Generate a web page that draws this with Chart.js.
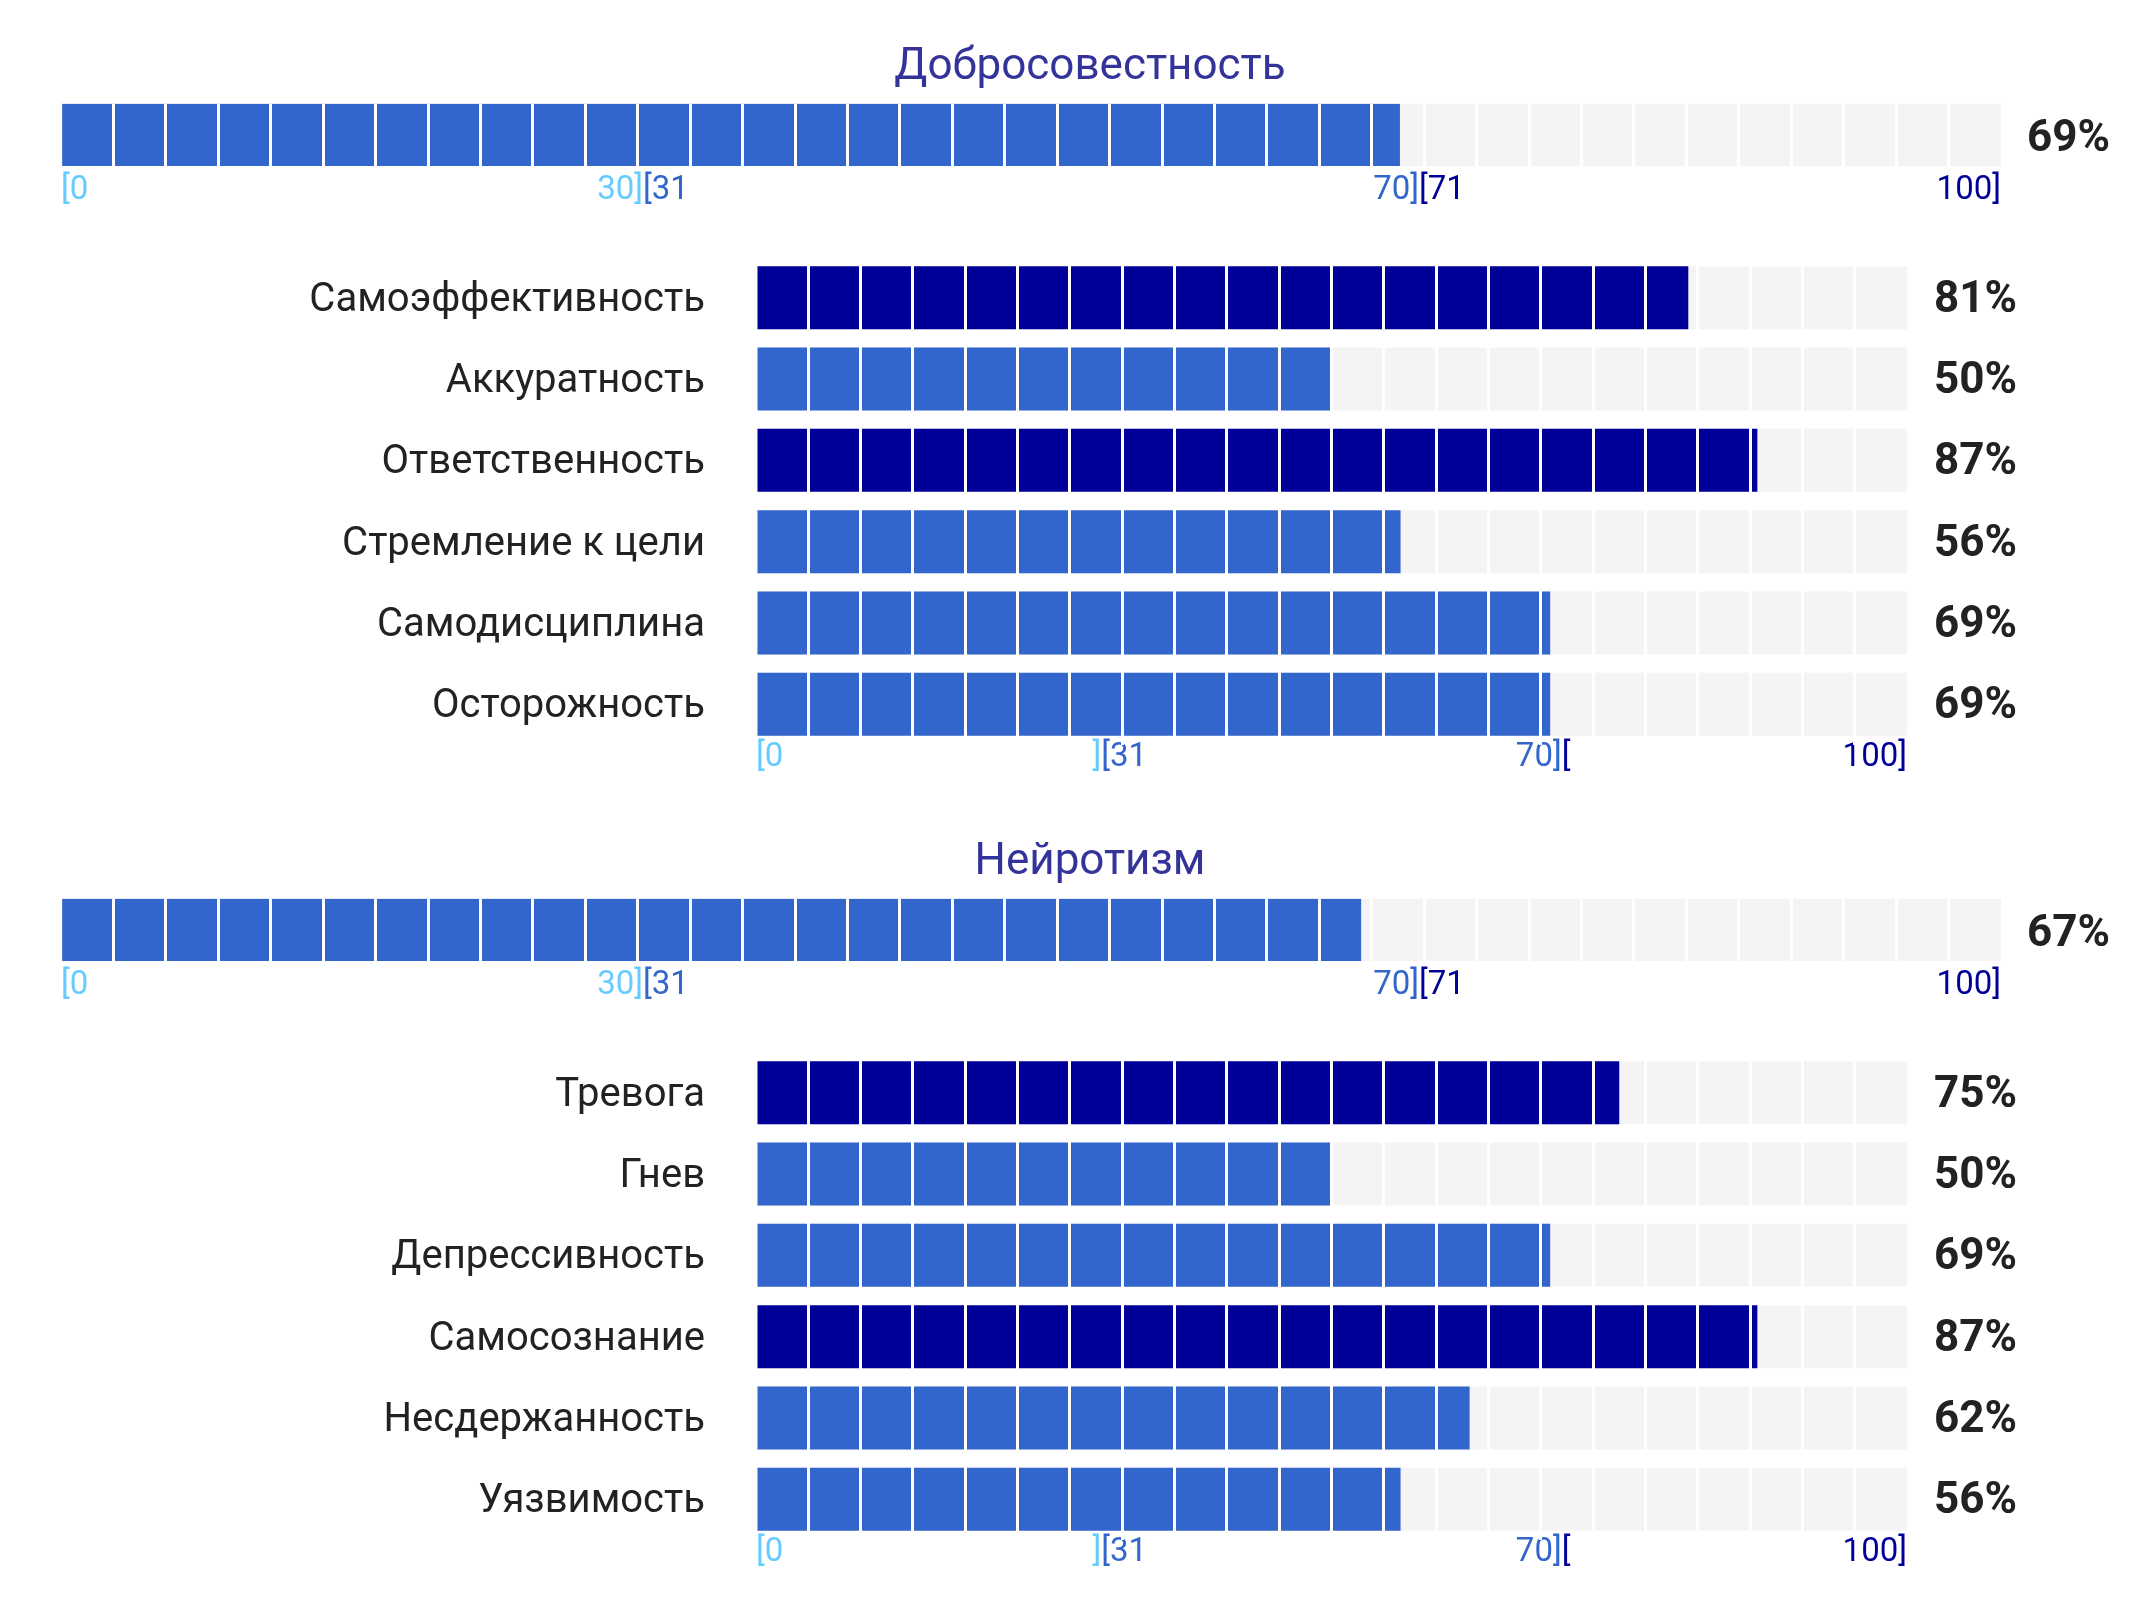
<!DOCTYPE html>
<html>
<head>
<meta charset="utf-8">
<script src="https://cdn.jsdelivr.net/npm/chart.js@4.4.1/dist/chart.umd.min.js"></script>
<style>
  html, body { margin: 0; padding: 0; background: #ffffff; }
  #wrap { position: relative; width: 2137px; height: 1610px; background: #ffffff; }
  canvas { position: absolute; left: 0; }
</style>
</head>
<body>
<div id="wrap">
  <canvas id="c1" width="2137" height="215" style="top:0px"></canvas>
  <canvas id="c2" width="2137" height="535" style="top:250px"></canvas>
  <canvas id="c3" width="2137" height="215" style="top:795px"></canvas>
  <canvas id="c4" width="2137" height="535" style="top:1045px"></canvas>
</div>
<script>
// ---------- data ----------
const traitNames = ['Добросовестность', 'Нейротизм'];
const traitScores = [69, 67];

const consFacets = ['Самоэффективность', 'Аккуратность', 'Ответственность', 'Стремление к цели', 'Самодисциплина', 'Осторожность'];
const consScores = [81, 50, 87, 56, 69, 69];

const neuroFacets = ['Тревога', 'Гнев', 'Депрессивность', 'Самосознание', 'Несдержанность', 'Уязвимость'];
const neuroScores = [75, 50, 69, 87, 62, 56];

const bandStarts = [0, 30, 70];
const bandEnds = [30, 70, 100];
const traitStartLabels = ['[0', '[31', '[71'];
const traitEndLabels = ['30]', '70]', '100]'];
const facetStartLabels = ['[0', '[31', '['];
const facetEndLabels = [']', '70]', '100]'];

const traitSegments = 37;
const facetSegments = 22;

// ---------- styles ----------
const LIGHT = '#66ccff';
const MEDIUM = '#3366cc';
const DARK = '#000099';
const TRACK = '#f4f4f4';
const bandColors = [LIGHT, MEDIUM, DARK];
const colorFor = v => v > 70 ? DARK : (v > 30 ? MEDIUM : LIGHT);
const FONT = 'Roboto';

function zeroPad(s) { s.paddingTop = 0; s.paddingBottom = 0; s.paddingLeft = 0; s.paddingRight = 0; }

function segmentAxis(n) {
  return {
    type: 'linear', min: 0, max: 100, position: 'bottom',
    afterBuildTicks: s => { s.ticks = Array.from({length: n + 1}, (_, i) => ({value: i * 100 / n})); },
    grid: {
      z: 1,
      color: ctx => (ctx.index === 0 || ctx.index === n) ? 'rgba(0,0,0,0)' : '#ffffff',
      lineWidth: 3, drawTicks: false, drawOnChartArea: true
    },
    border: {display: false},
    ticks: {display: false},
    afterFit: s => { s.height = 0; zeroPad(s); }
  };
}

function labelAxis(values, labels, align, pad) {
  return {
    type: 'linear', min: 0, max: 100, position: 'bottom',
    afterBuildTicks: s => { s.ticks = values.map(v => ({value: v})); },
    grid: {display: false, drawTicks: false},
    border: {display: false},
    ticks: {
      autoSkip: false, maxRotation: 0, minRotation: 0, align: align, padding: pad, mirror: true,
      color: ctx => bandColors[ctx.index],
      font: {family: FONT, size: 33},
      callback: (v, i) => labels[i]
    },
    afterFit: s => { s.height = 0; zeroPad(s); }
  };
}

function baseDatasets(values, thickness) {
  return [
    {data: values, backgroundColor: values.map(colorFor), order: 1, grouped: false,
     barPercentage: thickness, categoryPercentage: 1, yAxisID: 'y', xAxisID: 'x'},
    {data: values.map(() => 100), backgroundColor: TRACK, order: 2, grouped: false,
     barPercentage: thickness, categoryPercentage: 1, yAxisID: 'y', xAxisID: 'x'}
  ];
}

function valueAxis(labels, pad, width, shift) {
  return {
    type: 'category', position: 'right', labels: labels,
    grid: {display: false, drawTicks: false}, border: {display: false},
    ticks: {color: '#222222', padding: pad, labelOffset: shift,
            font: {family: FONT, size: 44, weight: 'bold'}},
    afterFit: s => { s.width = width; zeroPad(s); }
  };
}

function traitChart(id, name, score) {
  new Chart(document.getElementById(id), {
    type: 'bar',
    data: {labels: [name], datasets: baseDatasets([score], 1)},
    options: {
      indexAxis: 'y', responsive: false, animation: false, devicePixelRatio: 1,
      layout: {padding: {left: 43, top: 0, right: 0, bottom: 49}},
      plugins: {
        legend: {display: false}, tooltip: {enabled: false},
        title: {display: true, text: name, color: '#333399',
                font: {family: FONT, size: 44, weight: 'normal'}, padding: {top: 42, bottom: 9}}
      },
      scales: {
        x: segmentAxis(traitSegments),
        xs: labelAxis(bandStarts, traitStartLabels, 'start', -45),
        xe: labelAxis(bandEnds, traitEndLabels, 'end', -45),
        y: {type: 'category', grid: {display: false, drawTicks: false}, border: {display: false},
            ticks: {display: false}, afterFit: s => { s.width = 18; zeroPad(s); }},
        y2: valueAxis([score + '%'], 26, 136, 5)
      }
    }
  });
}

function facetChart(id, names, scores) {
  new Chart(document.getElementById(id), {
    type: 'bar',
    data: {labels: names, datasets: baseDatasets(scores, 0.774)},
    options: {
      indexAxis: 'y', responsive: false, animation: false, devicePixelRatio: 1,
      layout: {padding: {left: 0, top: 7, right: 0, bottom: 40}},
      plugins: {legend: {display: false}, tooltip: {enabled: false}},
      scales: {
        x: segmentAxis(facetSegments),
        xs: labelAxis(bandStarts, facetStartLabels, 'start', -33),
        xe: labelAxis(bandEnds, facetEndLabels, 'end', -33),
        y: {type: 'category', grid: {display: false, drawTicks: false}, border: {display: false},
            ticks: {color: '#222222', padding: 51, labelOffset: 3, font: {family: FONT, size: 40}},
            afterFit: s => { s.width = 756; zeroPad(s); }},
        y2: valueAxis(scores.map(v => v + '%'), 27, 230, 3)
      }
    }
  });
}

traitChart('c1', traitNames[0], traitScores[0]);
facetChart('c2', consFacets, consScores);
traitChart('c3', traitNames[1], traitScores[1]);
facetChart('c4', neuroFacets, neuroScores);
</script>
</body>
</html>
